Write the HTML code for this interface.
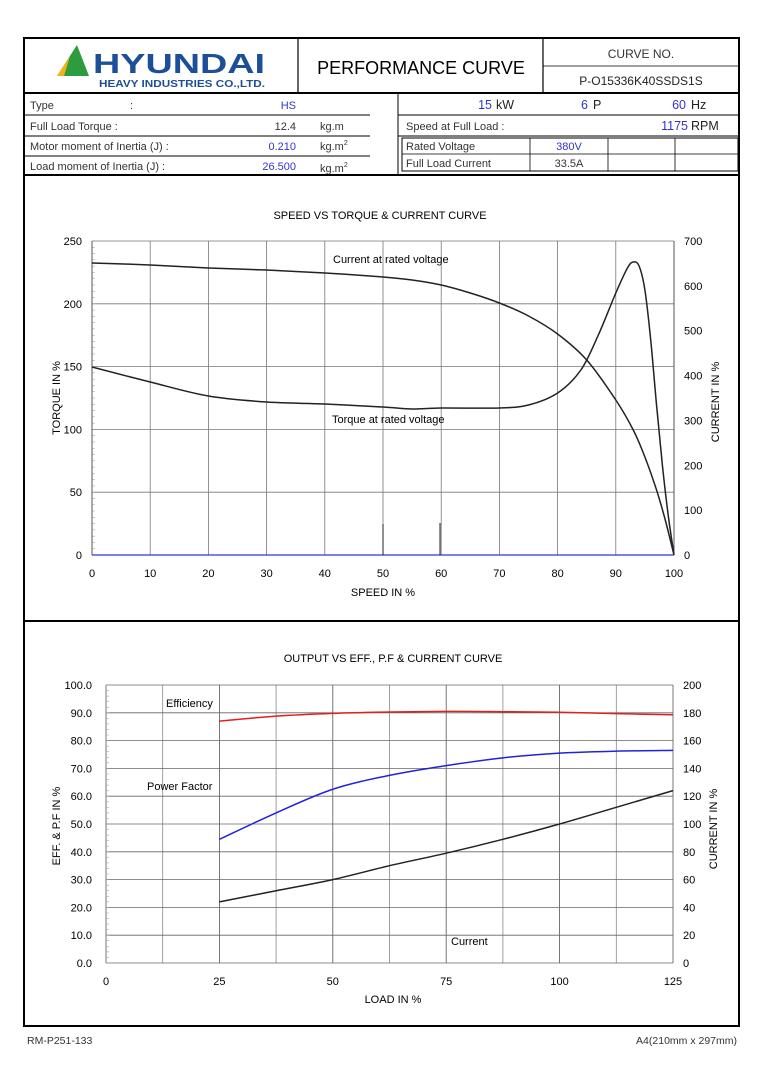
<!DOCTYPE html>
<html><head><meta charset="utf-8"><style>
html,body{margin:0;padding:0;background:#fff;}
svg{display:block;font-family:"Liberation Sans",Arial,sans-serif;}
</style></head><body>
<svg id="s" width="768" height="1085" viewBox="0 0 768 1085" xmlns="http://www.w3.org/2000/svg">
<rect x="0" y="0" width="768" height="1085" fill="#fff"/>
<!-- outer -->
<rect x="24" y="38" width="715" height="988" fill="none" stroke="#000" stroke-width="2"/>
<line x1="24" y1="93" x2="739" y2="93" stroke="#000" stroke-width="2"/>
<line x1="298" y1="38" x2="298" y2="93" stroke="#000" stroke-width="1.2"/>
<line x1="543" y1="38" x2="543" y2="93" stroke="#000" stroke-width="1.2"/>
<line x1="543" y1="66" x2="739" y2="66" stroke="#000" stroke-width="0.8"/>
<!-- logo -->
<polygon points="57,76 77,45 89,76" fill="#2e9b3c"/>
<polygon points="57,76 70,56 64,76" fill="#f2b21c"/>
<text x="93" y="73" font-size="28" font-weight="bold" fill="#1d4f99" textLength="172" lengthAdjust="spacingAndGlyphs">HYUNDAI</text>
<text x="99" y="87" font-size="10" font-weight="bold" fill="#1d4f99" textLength="166" lengthAdjust="spacingAndGlyphs">HEAVY INDUSTRIES CO.,LTD.</text>
<text x="421" y="74" font-size="18" text-anchor="middle">PERFORMANCE CURVE</text>
<text x="641" y="58" font-size="12" text-anchor="middle" fill="#333">CURVE NO.</text>
<text x="641" y="85" font-size="12" text-anchor="middle" fill="#222">P-O15336K40SSDS1S</text>
<!-- info -->
<line x1="398" y1="93" x2="398" y2="175" stroke="#000" stroke-width="1"/>
<line x1="24" y1="175" x2="739" y2="175" stroke="#000" stroke-width="2"/>
<g font-size="11" fill="#333">
<text x="30" y="109">Type</text><text x="130" y="109">:</text>
<text x="296" y="109" text-anchor="end" fill="#3333cc">HS</text>
<text x="30" y="130">Full Load Torque :</text>
<text x="296" y="130" text-anchor="end">12.4</text><text x="320" y="130">kg.m</text>
<text x="30" y="150">Motor moment of Inertia (J) :</text>
<text x="296" y="150" text-anchor="end" fill="#3333cc">0.210</text><text x="320" y="150">kg.m<tspan font-size="7" dy="-5">2</tspan></text>
<text x="30" y="170">Load moment of Inertia (J) :</text>
<text x="296" y="170" text-anchor="end" fill="#3333cc">26.500</text><text x="320" y="172">kg.m<tspan font-size="7" dy="-5">2</tspan></text>
</g>
<g stroke="#000" stroke-width="1"><line x1="24" y1="115" x2="370" y2="115"/><line x1="24" y1="136" x2="370" y2="136"/><line x1="24" y1="156" x2="370" y2="156"/>
<line x1="398" y1="115" x2="739" y2="115"/><line x1="398" y1="136" x2="739" y2="136"/></g>
<g font-size="12.5" fill="#222">
<text x="492" y="109" text-anchor="end" fill="#3333cc">15</text><text x="496" y="109">kW</text>
<text x="588" y="109" text-anchor="end" fill="#3333cc">6</text><text x="593" y="109">P</text>
<text x="686" y="109" text-anchor="end" fill="#3333cc">60</text><text x="691" y="109">Hz</text>
<text x="406" y="130" font-size="11" fill="#333">Speed at Full Load :</text>
<text x="688" y="130" text-anchor="end" fill="#3333cc">1175</text><text x="691" y="130">RPM</text>
</g>
<rect x="402" y="138" width="336" height="33" fill="none" stroke="#000" stroke-width="1"/>
<g stroke="#000" stroke-width="0.8"><line x1="402" y1="154" x2="738" y2="154"/><line x1="530" y1="138" x2="530" y2="171"/><line x1="608" y1="138" x2="608" y2="171"/><line x1="675" y1="138" x2="675" y2="171"/></g>
<g font-size="11" fill="#333"><text x="406" y="150">Rated Voltage</text><text x="569" y="150" text-anchor="middle" fill="#3333cc">380V</text>
<text x="406" y="167">Full Load Current</text><text x="569" y="167" text-anchor="middle">33.5A</text></g>
<line x1="24" y1="621" x2="739" y2="621" stroke="#000" stroke-width="2"/>
<!-- chart 1 -->
<text x="380" y="219" font-size="11" text-anchor="middle">SPEED VS TORQUE &amp; CURRENT CURVE</text>
<g id="c1"></g>
<text x="383" y="596" font-size="11" text-anchor="middle">SPEED IN %</text>
<text transform="translate(60,398) rotate(-90)" font-size="11" text-anchor="middle">TORQUE IN %</text>
<text transform="translate(719,402) rotate(-90)" font-size="11" text-anchor="middle">CURRENT IN %</text>
<text x="333" y="263" font-size="11">Current at rated voltage</text>
<text x="332" y="423" font-size="11">Torque at rated voltage</text>
<!-- chart 2 -->
<text x="393" y="662" font-size="11" text-anchor="middle">OUTPUT VS EFF., P.F &amp; CURRENT CURVE</text>
<g id="c2"></g>
<text x="393" y="1003" font-size="11" text-anchor="middle">LOAD IN %</text>
<text transform="translate(60,826) rotate(-90)" font-size="11" text-anchor="middle">EFF. &amp; P.F IN %</text>
<text transform="translate(717,829) rotate(-90)" font-size="11" text-anchor="middle">CURRENT IN %</text>
<text x="166" y="707" font-size="11">Efficiency</text>
<text x="147" y="790" font-size="11">Power Factor</text>
<text x="451" y="945" font-size="11">Current</text>
<text x="27" y="1044" font-size="10.5" fill="#333">RM-P251-133</text>
<text x="737" y="1044" font-size="10.5" fill="#333" text-anchor="end">A4(210mm x 297mm)</text>
</svg>
<script>
var NS="http://www.w3.org/2000/svg";
function el(p,t,a,txt){var e=document.createElementNS(NS,t);for(var k in a)e.setAttribute(k,a[k]);if(txt!=null)e.textContent=txt;p.appendChild(e);return e;}
function smooth(pts){var d="M"+pts[0][0]+","+pts[0][1];for(var i=0;i<pts.length-1;i++){var p0=pts[i-1]||pts[i],p1=pts[i],p2=pts[i+1],p3=pts[i+2]||p2;
var c1x=p1[0]+(p2[0]-p0[0])/6,c1y=p1[1]+(p2[1]-p0[1])/6,c2x=p2[0]-(p3[0]-p1[0])/6,c2y=p2[1]-(p3[1]-p1[1])/6;
d+=" C"+c1x+","+c1y+" "+c2x+","+c2y+" "+p2[0]+","+p2[1];}return d;}
// chart1
var g=document.getElementById("c1");
function X1(s){return 92+5.82*s;} function Y1(t){return 555-1.256*t;}
for(var s=0;s<=100;s+=10)el(g,"line",{x1:X1(s),y1:241,x2:X1(s),y2:555,stroke:"#777","stroke-width":0.8});
for(var t=0;t<=250;t+=50)el(g,"line",{x1:92,y1:Y1(t),x2:674,y2:Y1(t),stroke:"#777","stroke-width":0.8});
for(var t=0;t<=250;t+=5)el(g,"line",{x1:92,y1:Y1(t),x2:95,y2:Y1(t),stroke:"#999","stroke-width":0.5});
el(g,"line",{x1:92,y1:241,x2:92,y2:555,stroke:"#555","stroke-width":1});
el(g,"line",{x1:674,y1:241,x2:674,y2:555,stroke:"#555","stroke-width":1});
for(var s=0;s<=100;s+=10)el(g,"text",{x:X1(s),y:577,"font-size":11,"text-anchor":"middle"},s);
for(var t=0;t<=250;t+=50)el(g,"text",{x:82,y:Y1(t)+4,"font-size":11,"text-anchor":"end"},t);
for(var c=0;c<=700;c+=100)el(g,"text",{x:684,y:555-c*0.4486+4,"font-size":11},c);
el(g,"line",{x1:92,y1:555,x2:674,y2:555,stroke:"#3333dd","stroke-width":1.3});
el(g,"line",{x1:383,y1:524,x2:383,y2:555,stroke:"#222","stroke-width":1});
el(g,"line",{x1:440,y1:523,x2:440,y2:555,stroke:"#222","stroke-width":1});
var cur=[[0,263],[10,265],[20,268],[30,270],[40,273],[50,277],[55,280],[60,285],[65,293],[70,303],[75,316],[80,334],[85,360],[90,400],[93,430],[95,457],[97,490],[98.5,520],[100,555]];
el(g,"path",{d:smooth(cur.map(function(p){return[X1(p[0]),p[1]]})),fill:"none",stroke:"#222","stroke-width":1.5});
var tq=[[0,367],[10,382],[20,396],[30,402],[40,404],[50,407],[55,409],[60,408],[70,408],[75,405],[80,393],[84,370],[87,335],[90,293],[92,268],[93,262],[94,266],[95,290],[96,340],[97,405],[98,465],[99,515],[100,555]];
el(g,"path",{d:smooth(tq.map(function(p){return[X1(p[0]),p[1]]})),fill:"none",stroke:"#222","stroke-width":1.5});
// chart2
g=document.getElementById("c2");
function X2(l){return 106+4.536*l;} function Y2(v){return 963-2.78*v;}
for(var l=0;l<=125;l+=12.5)el(g,"line",{x1:X2(l),y1:685,x2:X2(l),y2:963,stroke:(l%25==0?"#555":"#888"),"stroke-width":0.8});
for(var v=0;v<=100;v+=10)el(g,"line",{x1:106,y1:Y2(v),x2:673,y2:Y2(v),stroke:"#666","stroke-width":0.8});
for(var v=0;v<=100;v+=2)el(g,"line",{x1:106,y1:Y2(v),x2:109,y2:Y2(v),stroke:"#999","stroke-width":0.5});
for(var l=0;l<=125;l+=25)el(g,"text",{x:X2(l),y:985,"font-size":11,"text-anchor":"middle"},l);
for(var v=0;v<=100;v+=10)el(g,"text",{x:92,y:Y2(v)+4,"font-size":11,"text-anchor":"end"},v.toFixed(1));
for(var v=0;v<=200;v+=20)el(g,"text",{x:683,y:Y2(v/2)+4,"font-size":11},v);
function line2(a,col){el(g,"path",{d:smooth(a.map(function(p){return[X2(p[0]),Y2(p[1])]})),fill:"none",stroke:col,"stroke-width":1.5});}
line2([[25,87],[37.5,88.8],[50,89.8],[62.5,90.3],[75,90.5],[87.5,90.4],[100,90.2],[112.5,89.7],[125,89.3]],"#e02020");
line2([[25,44.5],[37.5,54],[50,62.5],[62.5,67.5],[75,71],[87.5,73.8],[100,75.5],[112.5,76.2],[125,76.5]],"#2222dd");
line2([[25,22],[37.5,26],[50,30],[62.5,35],[75,39.5],[87.5,44.5],[100,50],[112.5,56],[125,62]],"#222");
</script>
</body></html>
